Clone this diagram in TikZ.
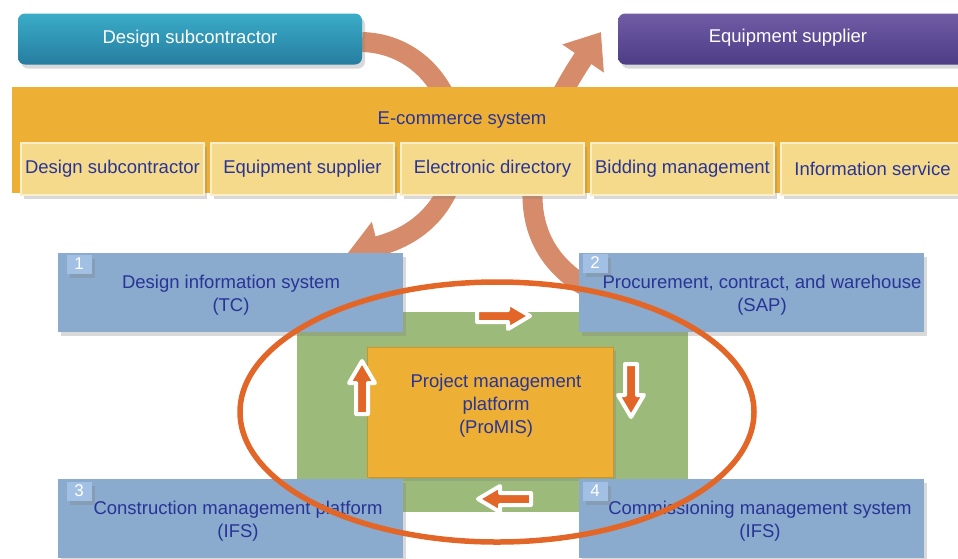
\documentclass[tikz,border=0pt]{standalone}
\usepackage{fontspec}
\setmainfont{Liberation Sans}
\usetikzlibrary{arrows.meta,shadows,positioning}

\definecolor{txtblue}{RGB}{40,52,150}
\definecolor{bandorange}{RGB}{238,176,52}
\definecolor{subyellow}{RGB}{245,218,140}
\definecolor{sysblue}{RGB}{138,170,206}
\definecolor{numblue}{RGB}{162,192,228}
\definecolor{platgreen}{RGB}{156,187,122}
\definecolor{ringorange}{RGB}{226,102,40}
\definecolor{arcbrown}{RGB}{214,140,106}
\definecolor{tealtop}{RGB}{58,172,200}
\definecolor{tealbot}{RGB}{38,125,160}
\definecolor{purtop}{RGB}{112,92,165}
\definecolor{purbot}{RGB}{78,60,135}

\tikzset{
  txt/.style={font=\fontsize{18.5}{23}\selectfont,text=txtblue,align=center},
  softshadow/.style={drop shadow={opacity=0.3,shadow xshift=3pt,shadow yshift=-4pt}},
  topbox/.style={rounded corners=7pt,minimum height=51pt,text=white,font=\fontsize{18.5}{23}\selectfont,softshadow},
  subbox/.style={fill=subyellow,draw=white!55!subyellow,line width=1.5pt,minimum width=183pt,minimum height=52pt,inner sep=0pt,txt,softshadow},
  sysbox/.style={fill=sysblue,minimum width=345pt,minimum height=79pt,softshadow},
  numbox/.style={fill=numblue,text=white,minimum width=25pt,minimum height=19pt,inner sep=0pt,font=\fontsize{17}{17}\selectfont,softshadow},
  bigarc/.style={arcbrown,line width=20pt,-{Triangle[width=48pt,length=32pt]}},
  cyc/.style={fill=ringorange,draw=white,line width=4pt,line join=round},
}

\begin{document}
\begin{tikzpicture}[x=1pt,y=-1pt]
  \useasboundingbox (0,0) rectangle (958,558);
  \clip (0,0) rectangle (958,558);
  % arcs behind the band
  \draw[bigarc] (362,42) .. controls (470,45) and (500,215) .. (347,254);
  \draw[bigarc] (592,290) .. controls (480,230) and (555,100) .. (601,32);
  % top partners
  \node[topbox,top color=tealtop,bottom color=tealbot,minimum width=344pt] (dsub) at (190,39) {Design subcontractor};
  \node[topbox,top color=purtop,bottom color=purbot,minimum width=360pt,anchor=west] (esup) at (618,39) {};
  \node[text=white,font=\fontsize{18.5}{23}\selectfont] (esuptxt) at (788,38) {Equipment supplier};
  % e-commerce band
  \node[fill=bandorange,minimum width=960pt,minimum height=106pt,anchor=north west,inner sep=0pt] (band) at (12,87) {};
  \node[txt] (ecom) at (462,120) {E-commerce system};
  \node[subbox] (s1) at (112.5,169) {Design subcontractor};
  \node[subbox] (s2) at (302.5,169) {Equipment supplier};
  \node[subbox] (s3) at (492.5,169) {Electronic directory};
  \node[subbox] (s4) at (682.5,169) {Bidding management};
  \node[subbox] (s5) at (872.5,169) {Information service};
  % platform
  \node[fill=platgreen,minimum width=391pt,minimum height=200pt,inner sep=0pt] (green) at (492.5,412) {};
  \node[fill=bandorange,draw=bandorange!85!black,line width=0.6pt,minimum width=246pt,minimum height=130pt,inner sep=0pt,softshadow] (pms) at (490,412) {};
  \node[txt] (pmstxt) at (496,406) {Project management\\platform\\(ProMIS)};
  % four systems
  \node[sysbox] (sys1) at (230.5,292.5) {};
  \node[sysbox] (sys2) at (751.5,292.5) {};
  \node[sysbox] (sys3) at (230.5,518) {};
  \node[sysbox] (sys4) at (751.5,518) {};
  \node[txt] (sys1txt) at (231,295) {Design information system\\(TC)};
  \node[txt] (sys2txt) at (762,295) {Procurement, contract, and warehouse\\(SAP)};
  \node[txt] (sys3txt) at (238,521) {Construction management platform\\(IFS)};
  \node[txt] (sys4txt) at (760,521) {Commissioning management system\\(IFS)};
  % little cycle arrows
  \filldraw[cyc,shift={(503,316)},rotate=0] (-26,-6) -- (5,-6) -- (5,-13) -- (27,0) -- (5,13) -- (5,6) -- (-26,6) -- cycle;
  \filldraw[cyc,shift={(631,390)},rotate=-90] (-26,-6) -- (5,-6) -- (5,-13) -- (27,0) -- (5,13) -- (5,6) -- (-26,6) -- cycle;
  \filldraw[cyc,shift={(505,499)},rotate=180] (-26,-6) -- (5,-6) -- (5,-13) -- (27,0) -- (5,13) -- (5,6) -- (-26,6) -- cycle;
  \filldraw[cyc,shift={(362,388)},rotate=90] (-26,-6) -- (5,-6) -- (5,-13) -- (27,0) -- (5,13) -- (5,6) -- (-26,6) -- cycle;
  % ring
  \draw[ringorange,line width=5.5pt] (497,412) ellipse [x radius=257,y radius=130];
  % numbers
  \node[numbox] (n1) at (79,264) {1};
  \node[numbox] (n2) at (595,263) {2};
  \node[numbox] (n3) at (79,491) {3};
  \node[numbox] (n4) at (595,491) {4};
\end{tikzpicture}
\end{document}
